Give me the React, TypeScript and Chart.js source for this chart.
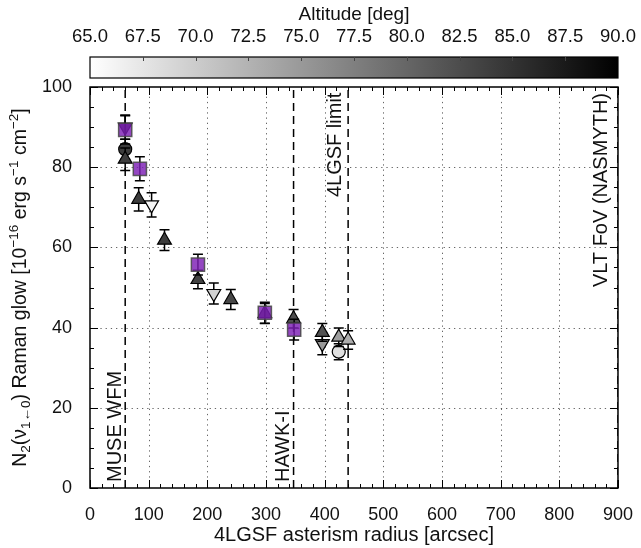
import React, { useEffect, useRef } from 'react';
import { Chart, registerables } from 'chart.js';
Chart.register(...registerables);

const FONT = "'Liberation Sans', Arial, sans-serif";

// ---- Data ----
const squareX = [60, 85, 184, 298, 348];
const squareY = [89.3, 79.6, 55.7, 43.7, 39.5];
const squareErr = [3.5, 3.0, 2.6, 2.6, 2.6];

const triUpX = [60, 83, 127, 184, 240, 298, 347, 396, 424, 440];
const triUpY = [82.0, 72.0, 61.8, 52.0, 47.0, 43.5, 42.2, 38.8, 37.6, 36.9];
const triUpErr = [2.8, 2.9, 2.6, 2.3, 2.5, 2.5, 2.3, 2.2, 2.3, 2.3];
const triUpAlt = [84, 84, 84, 83.5, 83, 84, 82.5, 82, 74.5, 73];

const triDownX = [60, 105, 211, 396];
const triDownY = [90.0, 70.6, 48.5, 36.0];
const triDownErr = [3.0, 3.0, 2.6, 2.8];
const triDownAlt = [84, 66, 69.5, 75];

const circleX = [60, 424];
const circleY = [84.5, 34.0];
const circleErr = [2.5, 2.0];
const circleAlt = [84, 68];

const limitX = [60, 347, 440, 900];
const limitLabels = ['MUSE WFM', 'HAWK-I', '4LGSF limit', 'VLT FoV (NASMYTH)'];
const limitLabelX = [53, 340, 428, 882];
const limitLabelY = [1.5, 1.5, 98.6, 98.5];
const limitLabelAnchor = ['bottom', 'bottom', 'top', 'top'];

const xTickStep = 100;
const yTickStep = 20;
const altMin = 65;
const altMax = 90;
const altStep = 2.5;

const xTitle = '4LGSF asterism radius [arcsec]';
const cbTitle = 'Altitude [deg]';
const yTitleParts: [string, string][] = [
  ['N', 'n'], ['2', 'sub'], ['(', 'n'], ['\u03BD', 'n'], ['1\u21900', 'sub'],
  [') Raman glow [10', 'n'], ['\u221216', 'sup'], [' erg s', 'n'], ['\u22121', 'sup'],
  [' cm', 'n'], ['\u22122', 'sup'], [']', 'n'],
];

function grayForAlt(a: number) {
  let t = (a - altMin) / (altMax - altMin);
  t = Math.max(0, Math.min(1, t));
  const v = Math.round(255 * (1 - t));
  return `rgb(${v},${v},${v})`;
}

const pts = (xs: number[], ys: number[]) => xs.map((x, i) => ({ x, y: ys[i] }));

const decorPlugin = {
  id: 'decor',
  beforeDatasetsDraw(chart: any) {
    const { ctx, chartArea: a, scales } = chart;
    const xs = scales.x, ys = scales.y;
    ctx.save();
    // dotted grid
    ctx.strokeStyle = 'rgba(0,0,0,0.6)';
    ctx.lineWidth = 1;
    ctx.setLineDash([1.3, 3.9]);
    for (let v = xTickStep; v < 900; v += xTickStep) {
      const px = Math.round(xs.getPixelForValue(v)) + 0.5;
      ctx.beginPath(); ctx.moveTo(px, a.bottom); ctx.lineTo(px, a.top); ctx.stroke();
    }
    for (let v = yTickStep; v < 100; v += yTickStep) {
      const py = Math.round(ys.getPixelForValue(v)) + 0.5;
      ctx.beginPath(); ctx.moveTo(a.left, py); ctx.lineTo(a.right, py); ctx.stroke();
    }
    ctx.setLineDash([]);
    // limit labels
    ctx.fillStyle = '#111';
    ctx.font = `20px ${FONT}`;
    ctx.textBaseline = 'alphabetic';
    limitLabels.forEach((t, i) => {
      const px = xs.getPixelForValue(limitLabelX[i]);
      const py = ys.getPixelForValue(limitLabelY[i]);
      ctx.save();
      ctx.translate(px, py);
      ctx.rotate(-Math.PI / 2);
      ctx.textAlign = limitLabelAnchor[i] === 'bottom' ? 'left' : 'right';
      ctx.fillText(t, 0, 0);
      ctx.restore();
    });
    ctx.restore();
  },
  beforeDatasetDraw(chart: any, args: any) {
    const ds = chart.data.datasets[args.index];
    if (!ds.err) return;
    const { ctx, scales } = chart;
    const xs = scales.x, ys = scales.y;
    ctx.save();
    ctx.strokeStyle = '#000';
    ctx.lineWidth = 1.5;
    ds.data.forEach((p: any, i: number) => {
      const px = xs.getPixelForValue(p.x);
      const t = ys.getPixelForValue(p.y + ds.err[i]);
      const b = ys.getPixelForValue(p.y - ds.err[i]);
      ctx.beginPath();
      ctx.moveTo(px, t); ctx.lineTo(px, b);
      ctx.moveTo(px - 5, t); ctx.lineTo(px + 5, t);
      ctx.moveTo(px - 5, b); ctx.lineTo(px + 5, b);
      ctx.stroke();
    });
    ctx.restore();
  },
  afterDraw(chart: any) {
    const { ctx, chartArea: a, scales } = chart;
    const xs = scales.x, ys = scales.y, cb = scales.cb;
    ctx.save();
    // frame
    ctx.strokeStyle = '#000';
    ctx.lineWidth = 1.5;
    ctx.strokeRect(a.left, a.top, a.right - a.left, a.bottom - a.top);
    // inward ticks
    ctx.lineWidth = 1;
    ctx.beginPath();
    for (let v = 0; v <= 900; v += 20) {
      const px = Math.round(xs.getPixelForValue(v)) + 0.5;
      const L = v % 100 === 0 ? 8 : 4;
      ctx.moveTo(px, a.bottom); ctx.lineTo(px, a.bottom - L);
      ctx.moveTo(px, a.top); ctx.lineTo(px, a.top + L);
    }
    for (let v = 0; v <= 100; v += 5) {
      const py = Math.round(ys.getPixelForValue(v)) + 0.5;
      const L = v % 20 === 0 ? 8 : 4;
      ctx.moveTo(a.left, py); ctx.lineTo(a.left + L, py);
      ctx.moveTo(a.right, py); ctx.lineTo(a.right - L, py);
    }
    ctx.stroke();
    // colorbar
    const cbTop = a.top - 30, cbBot = a.top - 9;
    const g = ctx.createLinearGradient(cb.left, 0, cb.right, 0);
    g.addColorStop(0, grayForAlt(altMin));
    g.addColorStop(1, grayForAlt(altMax));
    ctx.fillStyle = g;
    ctx.fillRect(cb.left, cbTop, cb.right - cb.left, cbBot - cbTop);
    ctx.strokeStyle = '#000';
    ctx.lineWidth = 1.2;
    ctx.strokeRect(cb.left, cbTop, cb.right - cb.left, cbBot - cbTop);
    ctx.lineWidth = 1;
    ctx.strokeStyle = '#444';
    ctx.beginPath();
    cb.ticks.forEach((tk: any) => {
      if (tk.value <= altMin || tk.value >= altMax) return;
      const px = Math.round(cb.getPixelForValue(tk.value)) + 0.5;
      ctx.moveTo(px, cbTop); ctx.lineTo(px, cbTop + 4);
    });
    ctx.stroke();
    // colorbar tick labels
    ctx.fillStyle = '#111';
    ctx.font = `18.5px ${FONT}`;
    ctx.textAlign = 'center';
    ctx.textBaseline = 'middle';
    cb.ticks.forEach((tk: any) => {
      ctx.fillText(Number(tk.value).toFixed(1), cb.getPixelForValue(tk.value), 37);
    });
    // y title (rich text)
    ctx.textBaseline = 'alphabetic';
    ctx.textAlign = 'left';
    const big = 19.5, small = 13.5;
    let total = 0;
    yTitleParts.forEach(([t, m]) => {
      ctx.font = `${m === 'n' ? big : small}px ${FONT}`;
      total += ctx.measureText(t).width;
    });
    ctx.translate(19, (a.top + a.bottom) / 2);
    ctx.rotate(-Math.PI / 2);
    let x = -total / 2;
    yTitleParts.forEach(([t, m]) => {
      ctx.font = `${m === 'n' ? big : small}px ${FONT}`;
      const dy = m === 'sub' ? 4 : m === 'sup' ? -8 : 0;
      ctx.fillText(t, x, 6.5 + dy);
      x += ctx.measureText(t).width;
    });
    ctx.restore();
  },
};

export default function App() {
  const ref = useRef<HTMLCanvasElement>(null);
  useEffect(() => {
    document.body.style.margin = '0';
    const lineDs = limitX.map((lx) => ({
      type: 'line',
      data: [{ x: lx, y: 0 }, { x: lx, y: 100 }],
      borderColor: '#000',
      borderWidth: 1.5,
      borderDash: [8, 5],
      pointRadius: 0,
      fill: false,
    }));
    const chart = new Chart(ref.current as HTMLCanvasElement, {
      type: 'scatter',
      data: {
        datasets: [
          {
            data: pts(squareX, squareY), err: squareErr,
            pointStyle: 'rect', pointRadius: 9.3,
            backgroundColor: 'rgba(125,31,181,0.82)', borderColor: 'rgba(70,70,70,0.85)', borderWidth: 1.5,
          },
          {
            data: pts(triUpX, triUpY), err: triUpErr,
            pointStyle: 'triangle', pointRadius: 8,
            backgroundColor: triUpAlt.map(grayForAlt), borderColor: '#000', borderWidth: 1.2,
          },
          {
            data: pts(triDownX, triDownY), err: triDownErr,
            pointStyle: 'triangle', pointRotation: 180, pointRadius: 8,
            backgroundColor: triDownAlt.map(grayForAlt), borderColor: '#000', borderWidth: 1.2,
          },
          {
            data: pts(circleX, circleY), err: circleErr,
            pointStyle: 'circle', pointRadius: 6.5,
            backgroundColor: circleAlt.map(grayForAlt), borderColor: '#000', borderWidth: 1.2,
          },
          ...lineDs,
        ] as any,
      },
      options: {
        responsive: false,
        animation: false,
        events: [],
        layout: { padding: { left: 0, right: 22, top: 0, bottom: 0 } },
        plugins: { legend: { display: false }, tooltip: { enabled: false } },
        scales: {
          x: {
            type: 'linear', position: 'bottom', min: 0, max: 900,
            ticks: { stepSize: xTickStep, color: '#111', font: { family: FONT, size: 18 }, padding: 8, maxRotation: 0 },
            grid: { display: false },
            border: { display: false },
            title: { display: true, text: xTitle, color: '#111', font: { family: FONT, size: 20 }, padding: { top: 0, bottom: 1 } },
            afterFit: (s: any) => { s.height = 60; },
          },
          y: {
            type: 'linear', position: 'left', min: 0, max: 100,
            ticks: { stepSize: yTickStep, color: '#111', font: { family: FONT, size: 18 }, padding: 10 },
            grid: { display: false },
            border: { display: false },
            afterFit: (s: any) => { s.width = 90; },
          },
          cb: {
            type: 'linear', axis: 'x', position: 'top', min: altMin, max: altMax,
            ticks: { display: false, stepSize: altStep, padding: 0 },
            grid: { display: false },
            border: { display: false },
            title: { display: true, text: cbTitle, color: '#111', font: { family: FONT, size: 19 }, padding: { top: 3, bottom: 0 } },
            afterFit: (s: any) => { s.height = 87; },
          },
        },
      } as any,
      plugins: [decorPlugin],
    });
    return () => chart.destroy();
  }, []);
  return (
    <div style={{ width: 641, height: 548 }}>
      <canvas ref={ref} width={641} height={548} style={{ display: 'block' }} />
    </div>
  );
}
